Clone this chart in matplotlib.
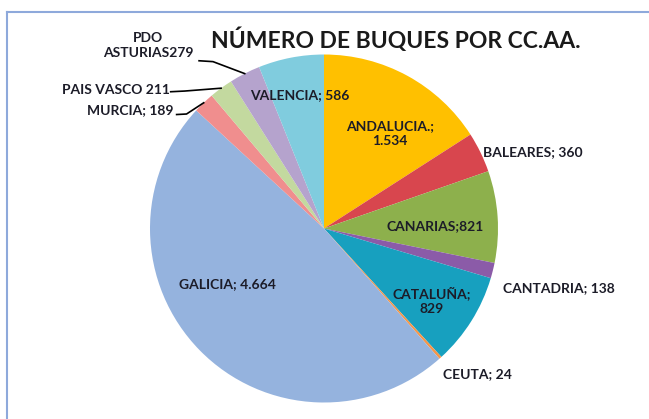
import matplotlib
matplotlib.use("Agg")
import matplotlib.pyplot as plt
import numpy as np
from matplotlib.lines import Line2D

# datos
regiones = ['ANDALUCIA', 'BALEARES', 'CANARIAS', 'CANTADRIA', 'CATALUÑA', 'CEUTA',
            'GALICIA', 'MURCIA', 'PAIS VASCO', 'PDO ASTURIAS', 'VALENCIA']
buques = [1534, 360, 821, 138, 829, 24, 4664, 189, 211, 279, 586]
etiquetas = ['ANDALUCIA.;\n1.534', 'BALEARES; 360', 'CANARIAS;821', 'CANTADRIA; 138',
             'CATALUÑA;\n829', 'CEUTA; 24', 'GALICIA; 4.664', 'MURCIA; 189',
             'PAIS VASCO 211', 'PDO\nASTURIAS279', 'VALENCIA; 586']
colores = ['#FFC000', '#D8464E', '#8DB04C', '#8B5BA8', '#17A0BF', '#F5964A',
           '#95B3DE', '#F08E8E', '#C3D99F', '#B5A3CD', '#80CCDE']

# posicion de cada etiqueta (en radios) y alineacion
pos_etq = [(0.38, 0.546, 'center'), (0.912, 0.438, 'left'), (0.641, 0.014, 'center'),
           (1.029, -0.341, 'left'), (0.619, -0.414, 'center'), (0.682, -0.839, 'left'),
           (-0.555, -0.322, 'center'), (-0.867, 0.681, 'right'), (-0.885, 0.796, 'right'),
           (-1.011, 1.049, 'center'), (-0.138, 0.764, 'center')]
# lineas guia: (inicio junto al texto, codo)
guias = {7: [(-0.847, 0.655), (-0.79, 0.658)],
         8: [(-0.881, 0.786), (-0.80, 0.790)],
         9: [(-0.718, 0.964), (-0.638, 0.959)]}

plt.rcParams['font.family'] = ['Lato', 'DejaVu Sans']

fig = plt.figure(figsize=(6.49, 4.19), dpi=100)
fig.patch.set_facecolor('white')

cx, cy, r = 324, 228.5, 174
W, H = 649, 419
ax = fig.add_axes([(cx - r) / W, (H - cy - r) / H, 2 * r / W, 2 * r / H])

wedges, _ = ax.pie(buques, colors=colores, startangle=90, counterclock=False,
                   radius=1, wedgeprops=dict(linewidth=0))
ax.set_xlim(-1, 1)
ax.set_ylim(-1, 1)
ax.axis('off')

for i, (x, y, ha) in enumerate(pos_etq):
    ax.text(x, y, etiquetas[i], ha=ha, va='center', fontsize=10, fontweight='bold',
            color='#1c1c28', linespacing=1.3)

for i, pts in guias.items():
    w = wedges[i]
    ang = np.deg2rad((w.theta1 + w.theta2) / 2)
    xs = [p[0] for p in pts] + [np.cos(ang)]
    ys = [p[1] for p in pts] + [np.sin(ang)]
    ax.plot(xs, ys, color='black', lw=1.2, clip_on=False)

fig.text(396 / W, 1 - 48.3 / H, 'NÚMERO DE BUQUES POR CC.AA.', ha='center',
         va='baseline', fontsize=16.5, fontweight='bold', color='#1a1a1a')

# marco
fig.add_artist(Line2D([7 / W, 1], [1 - 12 / H, 1 - 12 / H], color='#8EA9DB', lw=1.5,
                      transform=fig.transFigure))
fig.add_artist(Line2D([7 / W, 7 / W], [0, 1 - 12 / H], color='#8EA9DB', lw=1.5,
                      transform=fig.transFigure))

fig.savefig('out.png', dpi=100)
